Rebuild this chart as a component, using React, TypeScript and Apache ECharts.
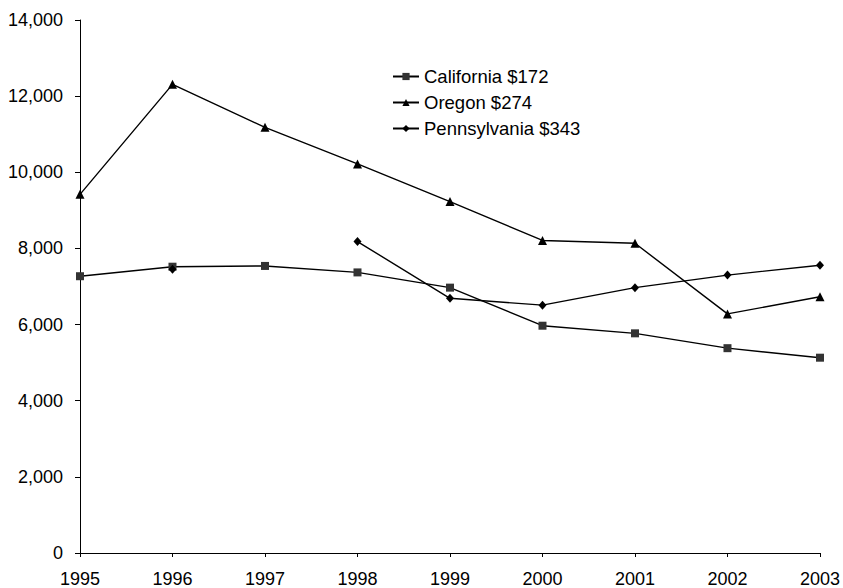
import React, { useEffect, useRef } from "react";
import * as echarts from "echarts";

const years = ["1995", "1996", "1997", "1998", "1999", "2000", "2001", "2002", "2003"];
const california = [7270, 7520, 7540, 7370, 6970, 5970, 5770, 5380, 5130];
const oregon = [9420, 12310, 11180, 10220, 9230, 8210, 8135, 6280, 6730];
const pennsylvania = [null, 7450, null, 8180, 6690, 6510, 6970, 7300, 7560];
const seriesNames = ["California $172", "Oregon $274", "Pennsylvania $343"];

const FONT = "'Liberation Sans', Arial, Helvetica, sans-serif";

export default function App() {
  const ref = useRef<HTMLDivElement>(null);
  useEffect(() => {
    if (!ref.current) return;
    const chart = echarts.init(ref.current, undefined, { renderer: "svg" });
    const lineStyle = { color: "#000", width: 1.4 };
    chart.setOption({
      animation: false,
      backgroundColor: "#fff",
      textStyle: { fontFamily: FONT },
      grid: { left: 80, right: 21, top: 20, bottom: 35, containLabel: false },
      legend: {
        orient: "vertical",
        left: 387,
        top: 61,
        itemWidth: 26,
        itemHeight: 9,
        itemGap: 5,
        textStyle: { fontFamily: FONT, fontSize: 18.5, color: "#000", lineHeight: 21 },
        data: seriesNames,
      },
      xAxis: {
        type: "category",
        data: years,
        boundaryGap: false,
        axisLine: { lineStyle: { color: "#000", width: 1 } },
        axisTick: { show: true, length: 4, lineStyle: { color: "#000" } },
        axisLabel: { color: "#000", fontSize: 18, fontFamily: FONT, margin: 17 },
        splitLine: { show: false },
      },
      yAxis: {
        type: "value",
        min: 0,
        max: 14000,
        interval: 2000,
        axisLine: { show: true, lineStyle: { color: "#000", width: 1 } },
        axisTick: { show: true, length: 5, lineStyle: { color: "#000" } },
        axisLabel: {
          color: "#000",
          fontSize: 18,
          fontFamily: FONT,
          margin: 17,
          formatter: (v: number) => v.toLocaleString("en-US"),
        },
        splitLine: { show: false },
      },
      series: [
        {
          name: seriesNames[0],
          type: "line",
          data: california,
          symbol: "rect",
          symbolSize: 8,
          itemStyle: { color: "#333" },
          lineStyle,
        },
        {
          name: seriesNames[1],
          type: "line",
          data: oregon,
          symbol: "triangle",
          symbolSize: 9,
          itemStyle: { color: "#000" },
          lineStyle,
        },
        {
          name: seriesNames[2],
          type: "line",
          data: pennsylvania,
          symbol: "diamond",
          symbolSize: [8, 9],
          connectNulls: false,
          itemStyle: { color: "#000" },
          lineStyle,
        },
      ],
    });
    return () => chart.dispose();
  }, []);
  return <div ref={ref} style={{ width: 843, height: 588, position: "absolute", left: 0, top: 0 }} />;
}
